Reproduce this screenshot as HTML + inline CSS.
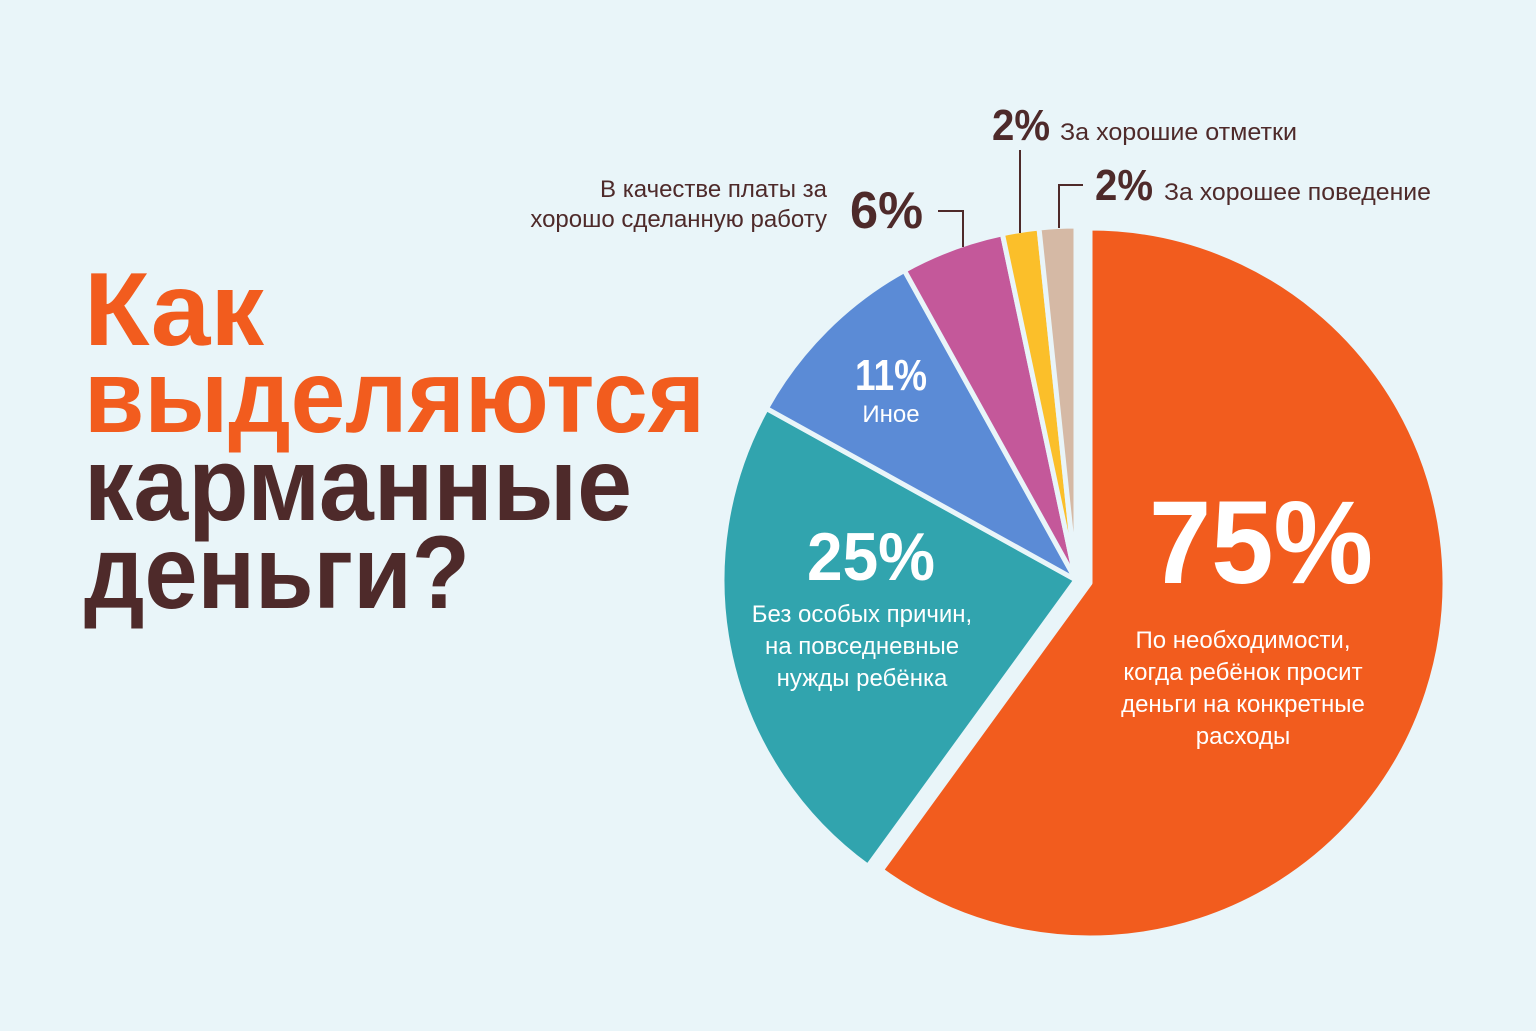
<!DOCTYPE html>
<html><head><meta charset="utf-8"><style>
html,body{margin:0;padding:0;background:#e9f5f9;}
svg{display:block;}
text{font-family:"Liberation Sans",sans-serif;}
</style></head><body>
<svg width="1536" height="1031" viewBox="0 0 1536 1031" xmlns="http://www.w3.org/2000/svg">
<rect width="1536" height="1031" fill="#e9f5f9"/>
<g font-weight="bold" font-size="104">
<text x="84" y="345" fill="#f25c1e" textLength="180" lengthAdjust="spacingAndGlyphs">Как</text>
<text x="84" y="432" fill="#f25c1e" textLength="621" lengthAdjust="spacingAndGlyphs">выделяются</text>
<text x="84" y="520" fill="#4e2a2a" textLength="548" lengthAdjust="spacingAndGlyphs">карманные</text>
<text x="84" y="608" fill="#4e2a2a" textLength="386" lengthAdjust="spacingAndGlyphs">деньги?</text>
</g>
<g stroke="#e9f5f9" stroke-width="5" stroke-linejoin="round">
<path d="M1090,583 L1090,228 A355,355 0 1,1 881.3,870.2 Z" fill="#f25c1e"/>
<path d="M1076,580 L867.9,866.4 A354,354 0 0,1 766.4,408.4 Z" fill="#31a4ae"/>
<path d="M1076,580 L766.4,408.4 A354,354 0 0,1 904.4,270.4 Z" fill="#5b8bd6"/>
<path d="M1076,580 L904.4,270.4 A354,354 0 0,1 1002.4,233.8 Z" fill="#c4589a"/>
<path d="M1076,580 L1002.4,233.8 A354,354 0 0,1 1039,228 Z" fill="#fbbf2a"/>
<path d="M1076,580 L1039,228 A354,354 0 0,1 1076,226 Z" fill="#d5b9a5"/>
</g>
<g fill="none" stroke="#4e2a2a" stroke-width="2">
<polyline points="938,211 963,211 963,247"/>
<line x1="1020" y1="150" x2="1020" y2="233"/>
<polyline points="1083,185 1059,185 1059,228"/>
</g>
<g fill="#fff" text-anchor="middle">
<text x="1261" y="583" font-size="118" font-weight="bold" textLength="224" lengthAdjust="spacingAndGlyphs">75%</text>
<g font-size="24">
<text x="1243" y="648">По необходимости,</text>
<text x="1243" y="680">когда ребёнок просит</text>
<text x="1243" y="712">деньги на конкретные</text>
<text x="1243" y="744">расходы</text>
</g>
<text x="871" y="580" font-size="68" font-weight="bold" textLength="128" lengthAdjust="spacingAndGlyphs">25%</text>
<g font-size="24">
<text x="862" y="622">Без особых причин,</text>
<text x="862" y="654">на повседневные</text>
<text x="862" y="686">нужды ребёнка</text>
</g>
<text x="891" y="390" font-size="44" font-weight="bold" textLength="72" lengthAdjust="spacingAndGlyphs">11%</text>
<text x="891" y="422" font-size="24">Иное</text>
</g>
<g fill="#4e2a2a">
<text x="850" y="228" font-size="52" font-weight="bold" textLength="73" lengthAdjust="spacingAndGlyphs">6%</text>
<text x="827" y="197" font-size="24" text-anchor="end">В качестве платы за</text>
<text x="827" y="227" font-size="24" text-anchor="end">хорошо сделанную работу</text>
<text x="992" y="140" font-size="44" font-weight="bold" textLength="58" lengthAdjust="spacingAndGlyphs">2%</text>
<text x="1060" y="140" font-size="24" textLength="237" lengthAdjust="spacingAndGlyphs">За хорошие отметки</text>
<text x="1095" y="200" font-size="44" font-weight="bold" textLength="58" lengthAdjust="spacingAndGlyphs">2%</text>
<text x="1164" y="200" font-size="24" textLength="267" lengthAdjust="spacingAndGlyphs">За хорошее поведение</text>
</g>
</svg>
</body></html>
